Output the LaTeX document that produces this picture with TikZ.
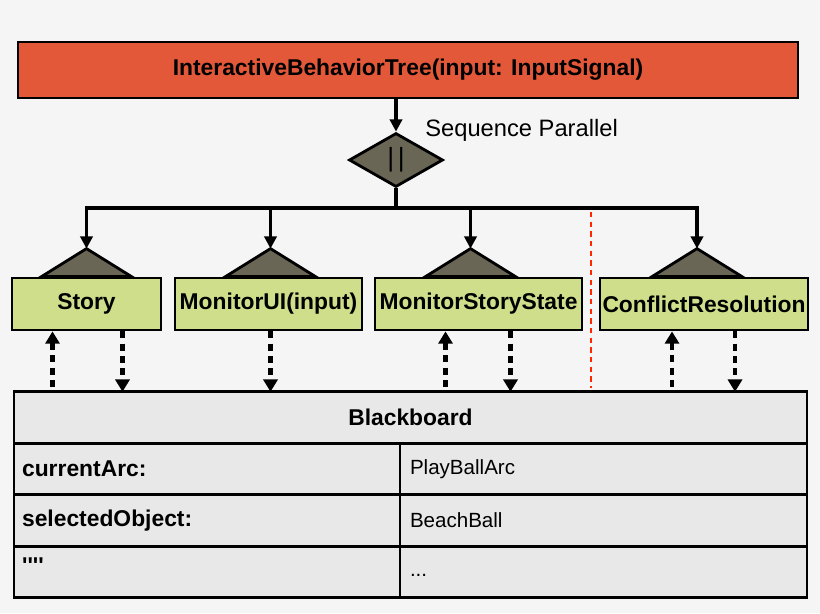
\documentclass[tikz,border=0pt]{standalone}
\usepackage{fontspec}
\setmainfont{Liberation Sans}
\usetikzlibrary{shapes.geometric,arrows.meta,calc,positioning}
\definecolor{rootred}{HTML}{E4583A}
\definecolor{leafgreen}{HTML}{CEDE8A}
\definecolor{decgray}{HTML}{6A6656}
\definecolor{boardgray}{HTML}{E8E8E8}
\definecolor{bggray}{HTML}{F5F5F5}
\tikzset{
  box/.style={draw,line width=1.6pt,fill=leafgreen,minimum height=1.04cm,inner sep=0pt,font=\bfseries\fontsize{13}{15}\selectfont},
  tri/.style={draw,line width=1.6pt,fill=decgray,line join=miter},
  link/.style={line width=1.9pt,-{Triangle[length=7pt,width=7pt]}},
  data/.style={line width=2.6pt,dash pattern=on 4pt off 3pt},
  dn/.style={-{Triangle[length=7pt,width=8pt]}},
  up/.style={{Triangle[length=7pt,width=8pt]}-},
  cell/.style={draw,line width=1.6pt,fill=boardgray,minimum height=1.03cm,inner sep=0pt,outer sep=0pt,text width=#1,align=left},
  key/.style={font=\bfseries\fontsize{13}{15}\selectfont},
  val/.style={font=\fontsize{11.7}{14}\selectfont},
}
\begin{document}
\begin{tikzpicture}[x=0.02cm,y=-0.02cm]
\fill[bggray] (0,0) rectangle (820,613);
\useasboundingbox (0,0) rectangle (820,613);

\node[draw,line width=1.6pt,fill=rootred,minimum width=15.6cm,minimum height=1.12cm,font=\bfseries\fontsize{13}{15}\selectfont] (root) at (408,70) {InteractiveBehaviorTree(input: InputSignal)};
\node[diamond,draw,line width=1.6pt,fill=decgray,minimum width=1.88cm,minimum height=1.08cm,aspect=1.74,inner sep=0pt,font=\fontsize{15}{15}\selectfont] (par) at (396,160) {|\kern2pt|};
\node[anchor=west,font=\fontsize{13.5}{15}\selectfont,inner sep=0pt] (parlbl) at (425,130) {Sequence Parallel};
\draw[link] (root.south -| par.north) -- (par.north);
\coordinate (bus) at (396,208);

% leaves
\node[box,minimum width=2.98cm] (story) at (86.5,304) {Story};
\node[box,minimum width=3.74cm] (mui) at (268.5,304) {MonitorUI(input)};
\node[box,minimum width=4.14cm] (mss) at (478.5,304) {MonitorStoryState};
\node[box,minimum width=4.16cm] (cr) at (704,304) {ConflictResolution};

\foreach \n/\off in {story/0,mui/2,mss/-8,cr/-7}{
  \filldraw[tri] ($(\n.north)+(\off-45,0)$) -- ++(45,-28) coordinate (a\n) -- ++(45,28) -- cycle;
  \draw[link] (par.south) -- (bus) -| (a\n);
}

\draw[red!70!orange,line width=1.2pt,dash pattern=on 3pt off 2.5pt] (591,212) -- (591,388);

% blackboard
\node[cell=15.86cm,align=center,key] (bb) at (410.5,417.5) {Blackboard};
\node[cell=7.72cm,key,anchor=north west] (k1) at (bb.south west) {\hspace{0.16cm}currentArc:};
\node[cell=8.14cm,val,anchor=west] (v1) at (k1.east) {\hspace{0.2cm}PlayBallArc};
\node[cell=7.72cm,key,anchor=north west] (k2) at (k1.south west) {\hspace{0.16cm}selectedObject:};
\node[cell=8.14cm,val,anchor=west] (v2) at (k2.east) {\hspace{0.2cm}BeachBall};
\node[cell=7.72cm,key,anchor=north west] (k3) at (k2.south west) {\hspace{0.16cm}\raisebox{7pt}{\textquotesingle\textquotesingle\textquotesingle\textquotesingle}};
\node[cell=8.14cm,val,anchor=west] (v3) at (k3.east) {\hspace{0.2cm}\raisebox{-5pt}{...}};

% reads and writes
\foreach \n/\dx/\dir in {story/-34/up,story/36/dn,mui/2/dn,mss/-33/up,mss/32/dn,cr/-32/up,cr/31/dn}{
  \draw[data,\dir] ($(\n.south)+(\dx,0)$) coordinate (u) -- (u |- bb.north);
}
\end{tikzpicture}
\end{document}
